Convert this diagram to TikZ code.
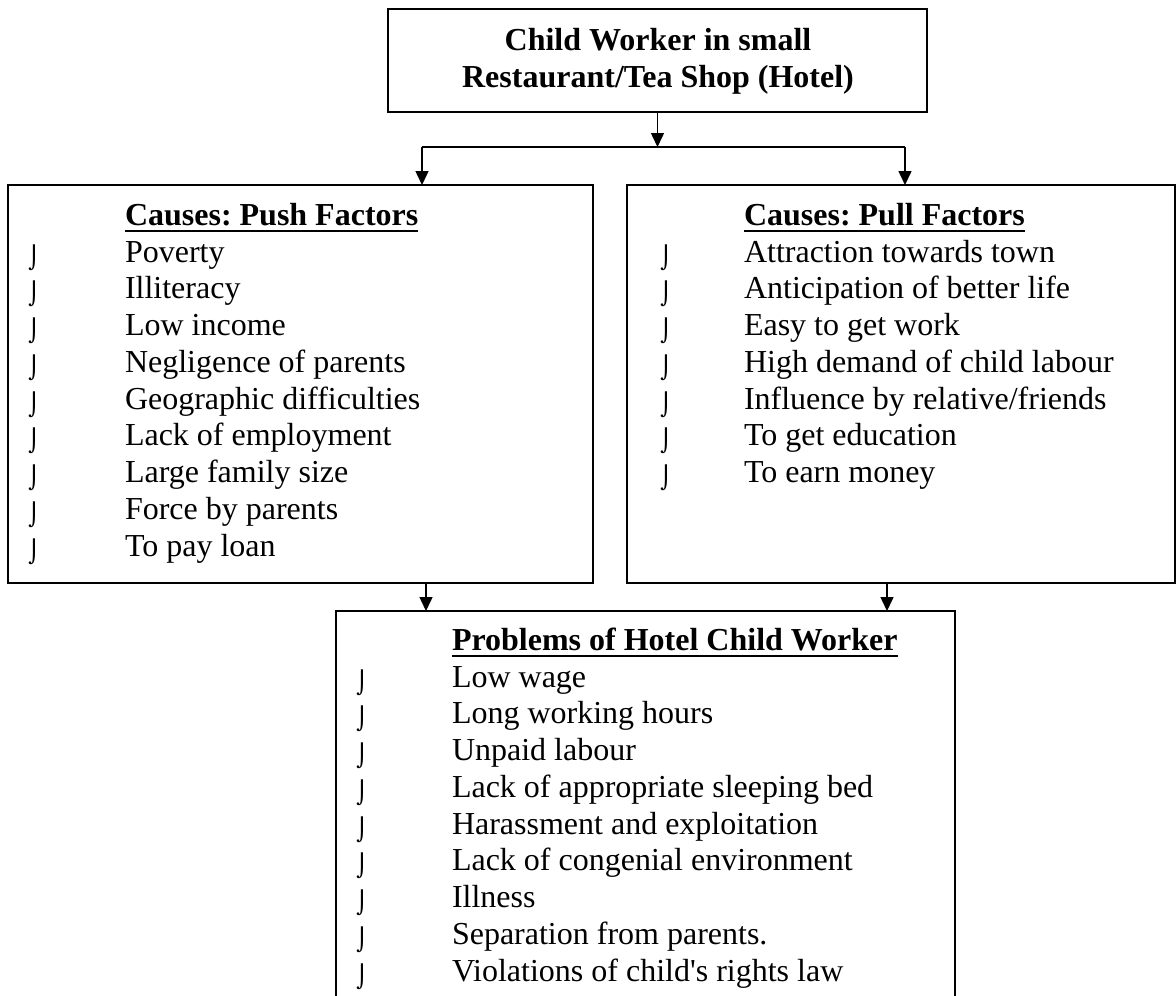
\documentclass[tikz,border=0pt]{standalone}
\usepackage{fontspec}
\setmainfont{Liberation Serif}
\newfontfamily\bulletfont{DejaVu Sans}
\usetikzlibrary{arrows.meta}
\tikzset{
  box/.style={draw, line width=2pt, inner sep=0pt, outer sep=0pt, rectangle},
  conn/.style={line width=1.5pt, -{Triangle[width=13pt,length=14pt]}},
  plain/.style={line width=1.5pt},
  item/.style={anchor=base west, inner sep=0pt, outer sep=0pt, font=\fontsize{32}{37}\selectfont\frenchspacing},
  head/.style={anchor=base west, inner sep=0pt, outer sep=0pt, font=\fontsize{32}{37}\selectfont\bfseries\frenchspacing},
  title/.style={anchor=base, inner sep=0pt, outer sep=0pt, font=\fontsize{32}{37}\selectfont\bfseries\frenchspacing},
  bul/.style={anchor=base, inner sep=0pt, outer sep=0pt, yshift=-3pt, font=\bulletfont\fontsize{22}{26}\selectfont},
  uline/.style={line width=2.6pt}
}
\begin{document}
\begin{tikzpicture}[x=1pt,y=-1pt]
\useasboundingbox (0,0) rectangle (1176,996);
% boxes
\node[box, minimum width=539pt, minimum height=103pt] (top) at (657.5,60.5) {};
\node[box, minimum width=585pt, minimum height=398pt] (push) at (300.5,384) {};
\node[box, minimum width=548pt, minimum height=398pt] (pull) at (901,384) {};
\node[box, minimum width=619pt, minimum height=400pt] (prob) at (645.5,811) {};
% top text
\node[title] (t1) at (658,50) {Child Worker in small};
\node[title] (t2) at (658,87) {Restaurant/Tea Shop (Hotel)};
% headings
\node[head] (hpush) at (125,225) {Causes: Push Factors};
\node[head] (hpull) at (744,225) {Causes: Pull Factors};
\node[head] (hprob) at (452,650) {Problems of Hotel Child Worker};
\foreach \h in {hpush,hpull,hprob}
  \draw[uline] ([yshift=-6pt]\h.base west) -- ([yshift=-6pt]\h.base east);
% push items
\foreach \t [count=\i from 0] in {Poverty,Illiteracy,Low income,Negligence of parents,Geographic difficulties,Lack of employment,Large family size,Force by parents,To pay loan}{
  \node[bul] (pb\i) at (34,262+36.75*\i) {⌡};
  \node[item] (pi\i) at (125,262+36.75*\i) {\t};
}
% pull items
\foreach \t [count=\i from 0] in {Attraction towards town,Anticipation of better life,Easy to get work,High demand of child labour,Influence by relative/friends,To get education,To earn money}{
  \node[bul] (lb\i) at (666,262+36.75*\i) {⌡};
  \node[item] (li\i) at (744,262+36.75*\i) {\t};
}
% problem items
\foreach \t [count=\i from 0] in {Low wage,Long working hours,Unpaid labour,Lack of appropriate sleeping bed,Harassment and exploitation,Lack of congenial environment,Illness,Separation from parents.,Violations of child\textquotesingle s rights law}{
  \node[bul] (rb\i) at (362,687+36.75*\i) {⌡};
  \node[item] (ri\i) at (452,687+36.75*\i) {\t};
}
% connectors
\coordinate (split) at (657.5,147);
\coordinate (sl) at (422,147);
\coordinate (sr) at (905,147);
\coordinate (dl) at (426,0);
\coordinate (dr) at (887,0);
\draw[conn] (top.south -| split) -- (split);
\draw[plain] (sl) -- (sr);
\draw[conn] (sl) -- (sl |- push.north);
\draw[conn] (sr) -- (sr |- pull.north);
\draw[conn] (dl |- push.south) -- (dl |- prob.north);
\draw[conn] (dr |- pull.south) -- (dr |- prob.north);
\end{tikzpicture}
\end{document}
